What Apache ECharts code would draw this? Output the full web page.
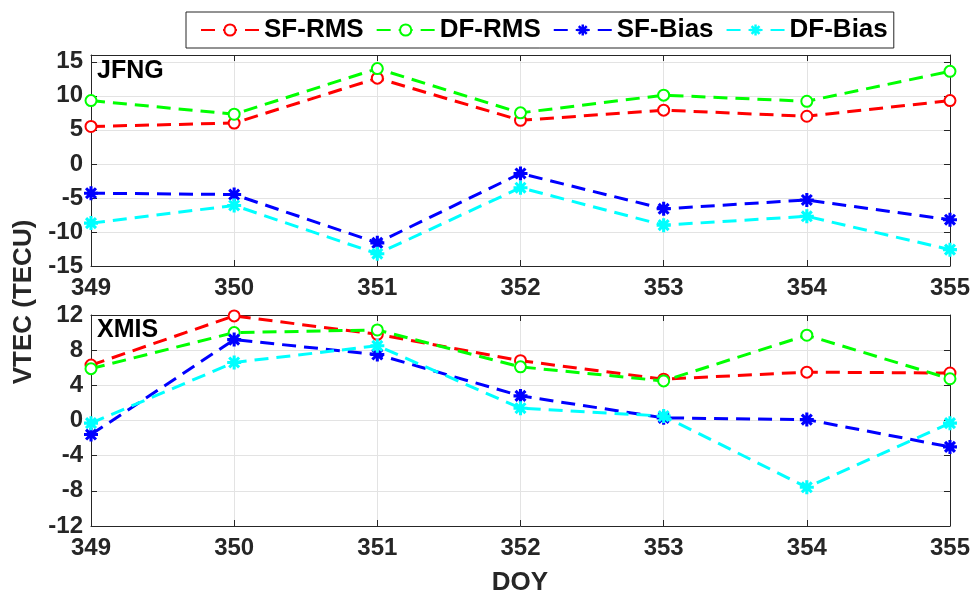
<!DOCTYPE html>
<html>
<head>
<meta charset="utf-8">
<script src="https://cdn.jsdelivr.net/npm/echarts@6/dist/echarts.min.js"></script>
<style>
  html, body { margin: 0; padding: 0; background: #fff; }
  #main { width: 973px; height: 597px; }
</style>
</head>
<body>
<div id="main"></div>
<script>
// DOY 轴
var doy = [349, 350, 351, 352, 353, 354, 355];
var seriesNames = ['SF-RMS', 'DF-RMS', 'SF-Bias', 'DF-Bias'];
var colors = ['#ff0000', '#00ff00', '#0000ff', '#00ffff'];

// JFNG 站
var jfngSfRms = [5.5, 6.0, 12.6, 6.4, 7.9, 7.0, 9.3];
var jfngDfRms = [9.3, 7.3, 14.0, 7.5, 10.1, 9.2, 13.6];
var jfngSfBias = [-4.3, -4.5, -11.6, -1.4, -6.6, -5.3, -8.2];
var jfngDfBias = [-8.7, -6.1, -13.2, -3.5, -9.0, -7.7, -12.6];

// XMIS 站
var xmisSfRms = [6.3, 11.9, 9.8, 6.8, 4.7, 5.5, 5.4];
var xmisDfRms = [5.9, 10.0, 10.3, 6.1, 4.5, 9.7, 4.75];
var xmisSfBias = [-1.6, 9.2, 7.5, 2.8, 0.3, 0.1, -3.0];
var xmisDfBias = [-0.3, 6.6, 8.5, 1.4, 0.5, -7.6, -0.3];

var panels = [
  { name: 'JFNG', min: -15, max: 16, interval: 5, data: [jfngSfRms, jfngDfRms, jfngSfBias, jfngDfBias] },
  { name: 'XMIS', min: -12, max: 12, interval: 4, data: [xmisSfRms, xmisDfRms, xmisSfBias, xmisDfBias] }
];

// 星号标记
var asterisk = 'path://M7.8,0 L12.2,0 L12.2,20 L7.8,20 Z M0,7.8 L20,7.8 L20,12.2 L0,12.2 Z ' +
  'M1.37,4.49 L4.49,1.37 L18.63,15.51 L15.51,18.63 Z M15.51,1.37 L18.63,4.49 L4.49,18.63 L1.37,15.51 Z';

var axisColor = '#262626';
var fontFam = 'Liberation Sans, Arial';
var labelFont = { color: axisColor, fontSize: 24, fontWeight: 'bold', fontFamily: fontFam };

function pairs(arr) {
  return arr.map(function (v, i) { return [doy[i], v]; });
}

var grids = [
  { left: 91, top: 55, width: 859, height: 211 },
  { left: 91, top: 315, width: 859, height: 211 }
];

var xAxis = [], yAxis = [], series = [];
panels.forEach(function (p, gi) {
  // 下轴（带标签）
  xAxis.push({
    type: 'value', gridIndex: gi, min: 349, max: 355, interval: 1,
    axisLine: { onZero: false, lineStyle: { color: axisColor, width: 1 } },
    axisTick: { inside: true, length: 6, lineStyle: { color: axisColor } },
    axisLabel: Object.assign({ margin: 10 }, labelFont),
    splitLine: { show: true, lineStyle: { color: '#e3e3e3', width: 1 } }
  });
  // 上轴（只有刻度）
  xAxis.push({
    type: 'value', gridIndex: gi, position: 'top', min: 349, max: 355, interval: 1,
    axisLine: { show: true, onZero: false, lineStyle: { color: axisColor, width: 1 } },
    axisTick: { inside: true, length: 6, lineStyle: { color: axisColor } },
    axisLabel: { show: false }, splitLine: { show: false }
  });
  yAxis.push({
    type: 'value', gridIndex: gi, min: p.min, max: p.max, interval: p.interval,
    axisLine: { show: true, onZero: false, lineStyle: { color: axisColor, width: 1 } },
    axisTick: { show: true, inside: true, length: 6, lineStyle: { color: axisColor } },
    axisLabel: Object.assign({
      margin: 8,
      formatter: function (v) { return (v - p.min) % p.interval === 0 ? String(v) : ''; }
    }, labelFont),
    splitLine: { show: true, lineStyle: { color: '#e3e3e3', width: 1 } }
  });
  yAxis.push({
    type: 'value', gridIndex: gi, position: 'right', min: p.min, max: p.max, interval: p.interval,
    axisLine: { show: true, onZero: false, lineStyle: { color: axisColor, width: 1 } },
    axisTick: { show: true, inside: true, length: 6, lineStyle: { color: axisColor } },
    axisLabel: { show: false }, splitLine: { show: false }
  });

  p.data.forEach(function (vals, si) {
    var isBias = si >= 2;
    series.push({
      name: seriesNames[si],
      type: 'line',
      xAxisIndex: gi * 2,
      yAxisIndex: gi * 2,
      data: pairs(vals),
      symbol: isBias ? asterisk : 'emptyCircle',
      symbolSize: isBias ? 14 : 11,
      lineStyle: { color: colors[si], width: 3, type: [14, 8] },
      itemStyle: isBias
        ? { color: colors[si] }
        : { color: colors[si], borderColor: colors[si], borderWidth: 2.5 },
      animation: false,
      z: 2 + si
    });
  });
});

var chart = echarts.init(document.getElementById('main'));
chart.setOption({
  backgroundColor: '#fff',
  animation: false,
  title: [
    { text: 'JFNG', left: 97, top: 59, padding: 0,
      textStyle: { color: '#000', fontSize: 25, fontWeight: 'bold', fontFamily: fontFam } },
    { text: 'XMIS', left: 97, top: 318, padding: 0,
      textStyle: { color: '#000', fontSize: 25, fontWeight: 'bold', fontFamily: fontFam } }
  ],
  legend: {
    data: seriesNames,
    left: 186, top: 12, width: 706,
    padding: [5, 6, 5, 14],
    itemWidth: 58, itemHeight: 14, itemGap: 12,
    borderColor: axisColor, borderWidth: 1, backgroundColor: '#fff',
    textStyle: { color: '#000', fontSize: 26, fontWeight: 'bold', fontFamily: fontFam }
  },
  grid: grids,
  xAxis: xAxis,
  yAxis: yAxis,
  series: series,
  graphic: [
    { type: 'text', x: 24, y: 302, rotation: Math.PI / 2,
      style: { text: 'VTEC (TECU)', align: 'center', verticalAlign: 'middle', fill: axisColor,
        font: 'bold 26px "Liberation Sans", Arial' } },
    { type: 'text', x: 520, y: 583,
      style: { text: 'DOY', align: 'center', verticalAlign: 'middle', fill: axisColor,
        font: 'bold 26px "Liberation Sans", Arial' } }
  ]
});
</script>
</body>
</html>
